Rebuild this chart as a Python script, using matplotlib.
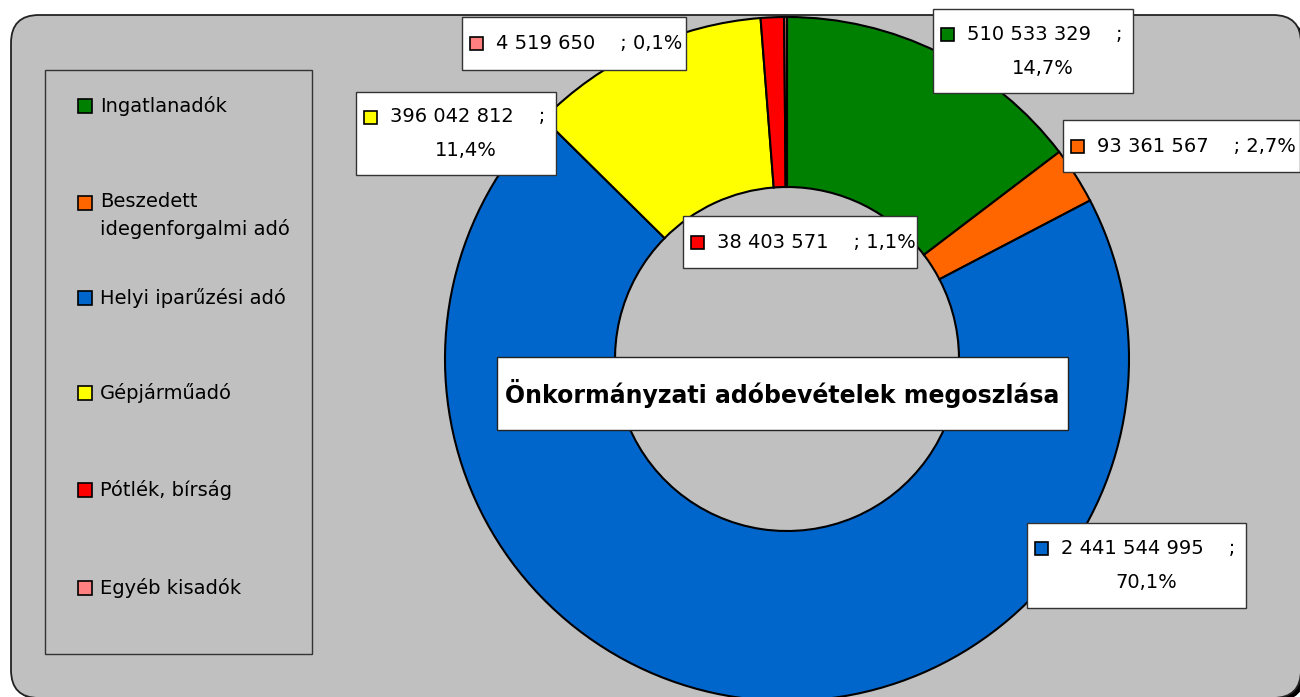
import matplotlib
matplotlib.use('Agg')
import matplotlib.pyplot as plt
from matplotlib.patches import FancyBboxPatch, Rectangle

plt.rcParams['font.family'] = ['DejaVu Sans']

W, H = 1300, 697

categories = ['Ingatlanadók', 'Beszedett\nidegenforgalmi adó', 'Helyi iparűzési adó',
              'Gépjárműadó', 'Pótlék, bírság', 'Egyéb kisadók']
values = [510533329, 93361567, 2441544995, 396042812, 38403571, 4519650]
colors = ['#008000', '#FF6600', '#0066CC', '#FFFF00', '#FF0000', '#FF8080']
title = 'Önkormányzati adóbevételek megoszlása'


def Y(y):
    # pixel row (top origin) -> data y
    return H - y


def fmt_num(v):
    return f'{v:,}'.replace(',', ' ')


def fmt_pct(v):
    return f'{100 * v / sum(values):.1f}'.replace('.', ',') + '%'


fig = plt.figure(figsize=(W / 100, H / 100), dpi=100)
fig.patch.set_facecolor('white')
ax = fig.add_axes([0, 0, 1, 1])

# rounded frame with shadow
shadow = FancyBboxPatch((15, Y(701)), 1290, 682, boxstyle='round,pad=0,rounding_size=28',
                        facecolor='black', edgecolor='none', zorder=0)
frame = FancyBboxPatch((11, Y(698)), 1290, 683, boxstyle='round,pad=0,rounding_size=28',
                       facecolor='#C0C0C0', edgecolor='#222222', lw=1.3, zorder=1)
ax.add_patch(shadow)
ax.add_patch(frame)

# donut
wedges, _ = ax.pie(values, colors=colors, startangle=90, counterclock=False,
                   center=(787, Y(359)), radius=342, frame=True,
                   wedgeprops=dict(width=170, edgecolor='black', lw=1.5))
for w in wedges:
    w.set_zorder(2)
    w.set_clip_path(frame)

ax.set_xlim(0, W)
ax.set_ylim(0, H)
ax.set_aspect('equal')
ax.set_axis_off()

# legend
ax.add_patch(Rectangle((45, Y(654)), 267, 584, facecolor='none', edgecolor='#333333',
                       lw=1, zorder=3))
leg_y = [106, 203, 298, 393, 490, 588]
for cat, col, yy in zip(categories, colors, leg_y):
    ax.add_patch(Rectangle((78, Y(yy + 7)), 14, 14, facecolor=col, edgecolor='black',
                           lw=1.2, zorder=4))
    if '\n' in cat:
        ax.text(100, Y(yy - 11), cat, fontsize=14, va='top', ha='left', zorder=4,
                linespacing=1.5)
    else:
        ax.text(100, Y(yy), cat, fontsize=14, va='center', ha='left', zorder=4)

# data labels: box (x0, y0, x1, y1) in pixel rows, same order as values
boxes = [(933, 9, 1133, 93), (1063, 120, 1300, 172), (1027, 523, 1246, 608),
         (356, 92, 556, 175), (683, 216, 917, 268), (462, 17, 686, 70)]
for i, (x0, y0, x1, y1) in enumerate(boxes):
    ax.add_patch(Rectangle((x0, Y(y1)), x1 - x0, y1 - y0, facecolor='white',
                           edgecolor='#333333', lw=1, zorder=5))
    two = (y1 - y0) > 70
    yc = y0 + 25 if two else (y0 + y1) / 2
    ax.add_patch(Rectangle((x0 + 8, Y(yc + 6.5)), 13, 13, facecolor=colors[i],
                           edgecolor='black', lw=1.2, zorder=6))
    if two:
        ax.text(x0 + 34, Y(yc), fmt_num(values[i]) + '    ;', fontsize=14,
                va='center', ha='left', zorder=6)
        ax.text((x0 + x1) / 2 + 10, Y(yc + 34), fmt_pct(values[i]), fontsize=14,
                va='center', ha='center', zorder=6)
    else:
        ax.text(x0 + 34, Y(yc), fmt_num(values[i]) + '    ; ' + fmt_pct(values[i]),
                fontsize=14, va='center', ha='left', zorder=6)

# title
ax.add_patch(Rectangle((497, Y(430)), 571, 73, facecolor='white', edgecolor='#222222',
                       lw=1, zorder=5))
ax.text(782, Y(393), title, fontsize=17, fontweight='bold', ha='center', va='center',
        zorder=6)

fig.savefig('out.png', dpi=100)
